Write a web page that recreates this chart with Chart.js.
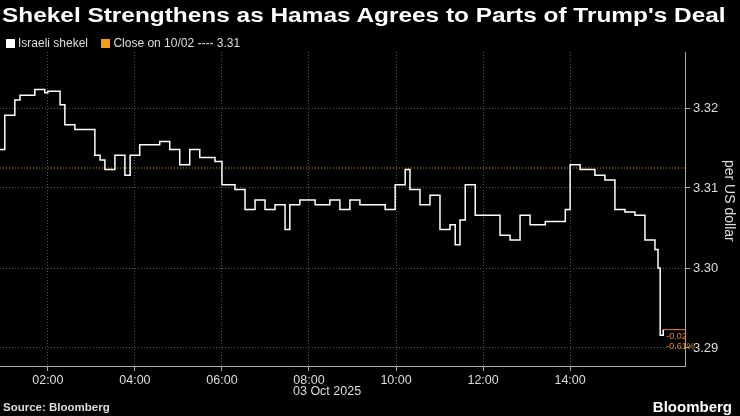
<!DOCTYPE html>
<html>
<head>
<meta charset="utf-8">
<script src="https://cdn.jsdelivr.net/npm/chart.js@4"></script>
<style>
  body { margin: 0; background: #000; width: 740px; height: 416px; overflow: hidden; font-family: "Liberation Sans", Arial, sans-serif; color: #fff; }
  #wrap { position: absolute; left: 0; top: 0; width: 740px; height: 416px; }
  .t { position: absolute; white-space: nowrap; }
  #title { left: 2px; top: 4px; font-size: 20px; font-weight: bold; transform: scaleX(1.22); transform-origin: 0 0; }
  #legend { left: 6px; top: 36px; font-size: 12px; color: #ddd; }
  .sw { display: inline-block; width: 9px; height: 9px; margin-right: 3px; vertical-align: -1px; }
  #date { left: 293px; top: 384px; font-size: 12.5px; color: #ddd; }
  #src { left: 3px; top: 401px; font-size: 11.5px; font-weight: bold; color: #ddd; }
  #bb { right: 8px; top: 398px; font-size: 15px; font-weight: bold; }
  #ylab { left: 738px; top: 160px; font-size: 14px; color: #ddd; transform: rotate(90deg); transform-origin: 0 0; }
</style>
</head>
<body>
<div id="wrap"><canvas id="c" width="740" height="416"></canvas></div>
<div class="t" id="title">Shekel Strengthens as Hamas Agrees to Parts of Trump's Deal</div>
<div class="t" id="legend"><span class="sw" style="background:#fff"></span>Israeli shekel &nbsp;&nbsp; <span class="sw" style="background:#f39c12"></span>Close on 10/02 ---- 3.31</div>
<div class="t" id="ylab">per US dollar</div>
<div class="t" id="date">03 Oct 2025</div>
<div class="t" id="src">Source: Bloomberg</div>
<div class="t" id="bb">Bloomberg</div>
<script>
// hours since midnight, 03 Oct 2025
const hours = [0.90, 1.01, 1.24, 1.36, 1.70, 1.93, 2.00, 2.28, 2.39, 2.62, 2.97, 3.08, 3.20, 3.31, 3.54, 3.77, 3.89,
  4.11, 4.57, 4.80, 5.03, 5.26, 5.49, 5.84, 6.00, 6.30, 6.53, 6.76, 6.99, 7.22, 7.45, 7.56, 7.79, 8.14, 8.48,
  8.71, 8.94, 9.17, 9.52, 9.75, 9.98, 10.21, 10.32, 10.55, 10.78, 11.01, 11.24, 11.36, 11.47, 11.59, 11.82,
  12.16, 12.39, 12.62, 12.85, 13.08, 13.43, 13.77, 13.89, 14.00, 14.23, 14.57, 14.80, 15.03, 15.26, 15.49,
  15.72, 15.95, 16.02, 16.07, 16.14];
const shekel = [3.3148, 3.3191, 3.3210, 3.3216, 3.3223, 3.3219, 3.3221, 3.3204, 3.3179, 3.3173, 3.3173, 3.3141, 3.3135, 3.3123, 3.3141, 3.3116, 3.3141,
  3.3154, 3.3158, 3.3148, 3.3129, 3.3148, 3.3138, 3.3133, 3.3104, 3.3098, 3.3073, 3.3085, 3.3073, 3.3079, 3.3048, 3.3079, 3.3085, 3.3079, 3.3085,
  3.3073, 3.3085, 3.3079, 3.3079, 3.3073, 3.3104, 3.3123, 3.3098, 3.3079, 3.3091, 3.3048, 3.3054, 3.3029, 3.3060, 3.3104, 3.3066,
  3.3066, 3.3041, 3.3035, 3.3066, 3.3054, 3.3058, 3.3058, 3.3073, 3.3129, 3.3123, 3.3116, 3.3110, 3.3073, 3.3070, 3.3066,
  3.3035, 3.3023, 3.3000, 3.2916, 3.2923];
const prevClose = 3.3125;
const yTicks = [3.29, 3.30, 3.31, 3.32];
const xTickHours = [2, 4, 6, 8, 10, 12, 14];

const pts = hours.map((h, i) => ({ x: h, y: shekel[i] }));
const gridCol = '#555';

const endNote = {
  id: 'endNote',
  afterDatasetsDraw(chart) {
    const { ctx, scales: { x, y } } = chart;
    const last = pts[pts.length - 1];
    const px = x.getPixelForValue(last.x), py = y.getPixelForValue(last.y);
    ctx.save();
    ctx.strokeStyle = '#e08a1e'; ctx.lineWidth = 1;
    ctx.beginPath(); ctx.moveTo(px, py); ctx.lineTo(x.right, py); ctx.stroke();
    ctx.fillStyle = '#e08a1e'; ctx.font = '9px "Liberation Sans"';
    ctx.fillText('-0.02', px + 3, py + 9);
    ctx.fillText('-0.61%', px + 3, py + 19);
    ctx.restore();
  }
};

new Chart(document.getElementById('c'), {
  type: 'line',
  data: {
    datasets: [
      { data: pts, borderColor: '#fff', borderWidth: 1.5, pointRadius: 0, stepped: true },
      { data: [{ x: 0.9, y: prevClose }, { x: 16.64, y: prevClose }], borderColor: '#e08a1e', borderWidth: 1,
        borderDash: [1, 2], pointRadius: 0 }
    ]
  },
  options: {
    animation: false, responsive: false,
    layout: { padding: { top: 52, left: 0, right: 0, bottom: 0 } },
    plugins: { legend: { display: false }, tooltip: { enabled: false } },
    scales: {
      x: {
        type: 'linear', min: 0.9, max: 16.64,
        afterBuildTicks: s => { s.ticks = xTickHours.map(v => ({ value: v })); },
        afterFit: s => { s.height = 50; },
        ticks: { color: '#ddd', font: { size: 12.5, family: 'Liberation Sans' }, padding: 2, maxRotation: 0,
          callback: v => String(v).padStart(2, '0') + ':00' },
        grid: { color: gridCol, lineWidth: 1, tickLength: 5, tickColor: '#aaa' },
        border: { color: '#aaa', dash: [1, 2] }
      },
      y: {
        position: 'right', min: 3.28775, max: 3.327,
        afterBuildTicks: s => { s.ticks = yTicks.map(v => ({ value: v })); },
        afterFit: s => { s.width = 55; },
        ticks: { color: '#ddd', font: { size: 13, family: 'Liberation Sans' }, padding: 3, callback: v => v.toFixed(2) },
        grid: { color: gridCol, lineWidth: 1, tickLength: 5, tickColor: '#aaa' },
        border: { color: '#aaa', dash: [1, 2] }
      }
    }
  },
  plugins: [endNote]
});
</script>
</body>
</html>
